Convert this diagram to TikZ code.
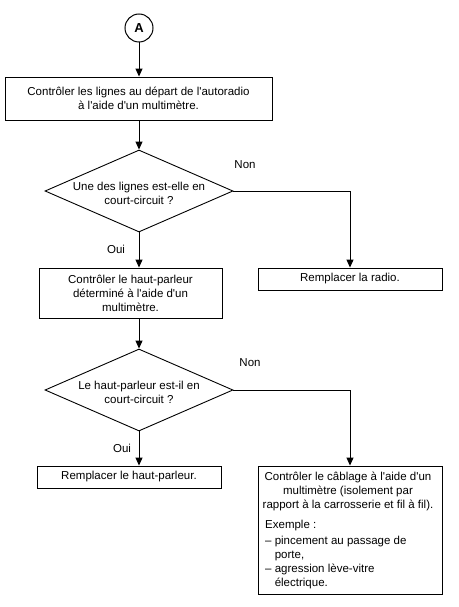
\documentclass[tikz,border=0pt]{standalone}
\usepackage{fontspec}
\setmainfont{Liberation Sans}[Ligatures=TeXOff]
\usetikzlibrary{arrows.meta,shapes.geometric}
\begin{document}
\begin{tikzpicture}[x=1pt,y=-1pt,
  every node/.style={font=\fontsize{11.5}{14}\selectfont},
  box/.style={draw,line width=0.9pt,inner sep=0pt,align=center},
  dia/.style={draw,line width=0.9pt,diamond,inner sep=0pt,minimum width=188pt,minimum height=82pt},
  lbl/.style={inner sep=0pt},
  arr/.style={line width=1pt,-{Triangle[width=7pt,length=8pt]}},
  ln/.style={line width=1pt}]
\useasboundingbox (0,0) rectangle (458,607);
\node[draw,circle,line width=1pt,minimum size=28pt,inner sep=0pt,font=\fontsize{13}{14}\bfseries] (A) at (139,28) {A};
\node[box,minimum width=267pt,minimum height=43pt] (b1) at (138.5,98.5) {Contrôler les lignes au départ de l'autoradio\\à l'aide d'un multimètre.};
\node[dia] (d1) at (139,191) {};
\node[lbl,align=center] (t1) at (139,193) {Une des lignes est-elle en\\court-circuit ?};
\node[lbl] (non1) at (245,165) {Non};
\node[box,minimum width=184pt,minimum height=22pt] (radio) at (350,279) {Remplacer la radio.};
\node[lbl] (oui1) at (116,249) {Oui};
\node[box,minimum width=183pt,minimum height=50pt] (b2) at (130.5,293) {Contrôler le haut-parleur\\déterminé à l'aide d'un\\multimètre.};
\node[dia] (d2) at (139,390) {};
\node[lbl,align=center] (t2) at (139,392) {Le haut-parleur est-il en\\court-circuit ?};
\node[lbl] (non2) at (250,363) {Non};
\node[lbl] (oui2) at (122,448) {Oui};
\node[box,minimum width=184pt,minimum height=22pt] (b4) at (129,477) {Remplacer le haut-parleur.};
\node[draw,line width=0.9pt,minimum width=184pt,minimum height=128pt,inner sep=0pt] (b5) at (350,530) {};
\node[lbl,anchor=north,align=center] (t5a) at (348,472) {Contrôler le câblage à l'aide d'un\\multimètre (isolement par\\rapport à la carrosserie et fil à fil).};
\node[lbl,anchor=north west,align=left] (t5b) at (265,520) {Exemple :\\[2pt]– pincement au passage de\\\phantom{– }porte,\\– agression lève-vitre\\\phantom{– }électrique.};
\draw[arr] (A.south) -- (A.south |- b1.north);
\draw[arr] (A.south |- b1.south) -- (d1.north);
\draw[arr] (d1.east) -| (radio.north);
\draw[arr] (d1.south) -- (d1.south |- b2.north);
\draw[arr] (d2.north |- b2.south) -- (d2.north);
\draw[arr] (d2.east) -| (b5.north);
\draw[arr] (d2.south) -- (d2.south |- b4.north);
\end{tikzpicture}
\end{document}
